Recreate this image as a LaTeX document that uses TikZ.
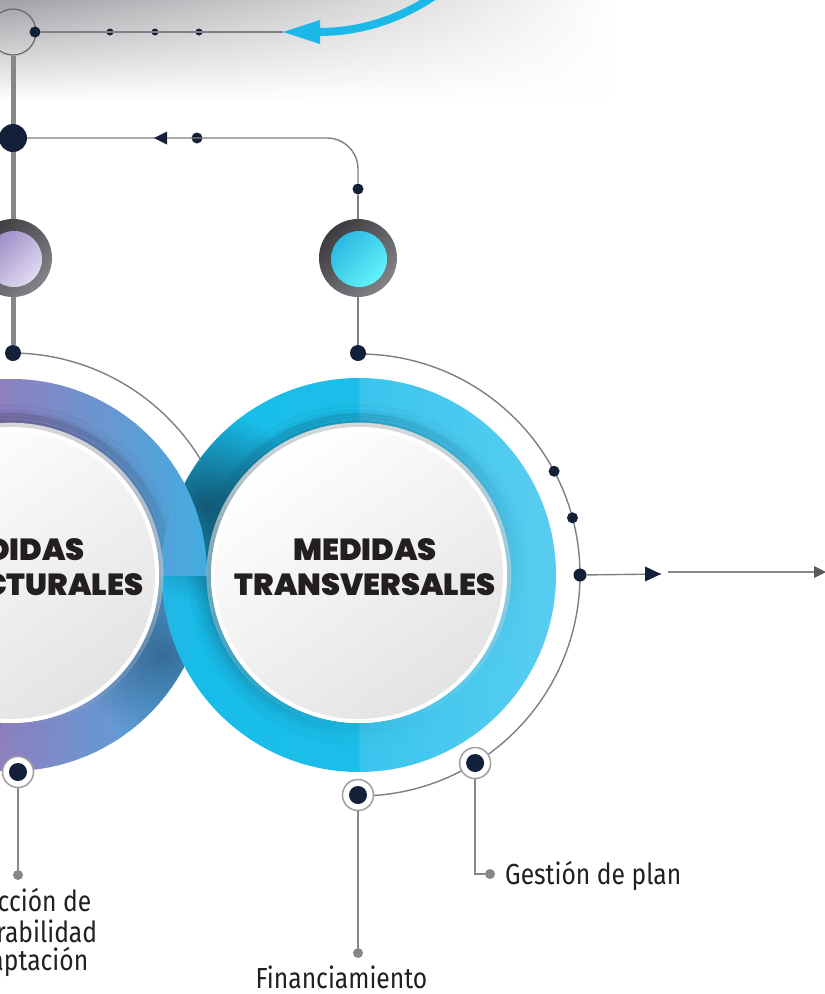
\documentclass[tikz,border=0pt]{standalone}
\usepackage{fontspec}
\usetikzlibrary{fadings}
\IfFontExistsTF{Poppins Black}{\newfontfamily\headfont{Poppins Black}}{%
  \IfFontExistsTF{Poppins ExtraBold}{\newfontfamily\headfont{Poppins ExtraBold}[FakeBold=1.5]}{%
    \newfontfamily\headfontraw{Lato}[BoldFeatures={FakeBold=10}]\newcommand\headfont{\headfontraw\bfseries}}}
\newfontfamily\lblfont{Fira Sans}[FakeStretch=0.85]
\definecolor{navy}{HTML}{13203A}
\definecolor{lgray}{HTML}{7D7F82}
\definecolor{tgray}{HTML}{858789}
\definecolor{cyanA}{HTML}{1BB8E8}
\definecolor{txt}{HTML}{231F20}
\definecolor{btnDark}{HTML}{3C3C40}
\definecolor{btnGray}{HTML}{828487}
\definecolor{arrowGray}{HTML}{58595B}
\definecolor{pB}{HTML}{8E80C0}
\definecolor{pC}{HTML}{6A96D0}
\definecolor{pD}{HTML}{42ACE1}
\definecolor{cA}{HTML}{3AAADC}
\definecolor{cB}{HTML}{17BDE9}
\definecolor{cC}{HTML}{1CBEE9}
\definecolor{cD}{HTML}{3AC5EE}
\definecolor{cE}{HTML}{66D0F2}
\definecolor{shadeR}{HTML}{124E6A}
\definecolor{shadeL}{HTML}{2F2845}
\definecolor{shadeL2}{HTML}{2E5F86}
\definecolor{purpleBtn}{HTML}{9A8EC6}
\definecolor{purpleBtnL}{HTML}{E2DAF2}
\definecolor{cyanBtn}{HTML}{2BB8E2}
\definecolor{cyanBtnL}{HTML}{62F4FA}
\definecolor{topshade}{HTML}{8A898F}
\pgfdeclarehorizontalshading{ringRshade}{100bp}{color(0bp)=(cA); color(15bp)=(cA); color(30bp)=(cB); color(49.8bp)=(cC); color(50.2bp)=(cD); color(85.5bp)=(cE); color(100bp)=(cE)}
\tikzfading[name=fadeR, left color=transparent!0, right color=transparent!100]
\tikzfading[name=fadeUL, top color=transparent!0, bottom color=transparent!100]
\tikzfading[name=softspot, inner color=transparent!0, outer color=transparent!100]
% vertical colour strips for the left ring (purple -> blue)
\newcommand\lrstrips{%
  \foreach \x in {-3,0,...,210}{%
    \ifdim\x pt<100pt
      \pgfmathsetmacro\pp{max(0,\x)}%
      \colorlet{stripc}{pC!\pp!pB}%
    \else
      \pgfmathsetmacro\pp{(\x-100)/107*100}%
      \colorlet{stripc}{pD!\pp!pC}%
    \fi
    \fill[stripc] (\x,370) rectangle (\x+4,780);
  }}
\tikzset{
  ndot/.style={circle, fill=navy, inner sep=0pt, minimum size=#1},
  ndot/.default=11,
  thinline/.style={lgray, line width=1.4},
  thickline/.style={tgray, line width=5},
  lblline/.style={tgray, line width=2.6},
  graydot/.style={circle, fill=tgray, inner sep=0pt, minimum size=10},
  bnode/.style={circle, draw=gray!75, line width=1.5, fill=white, inner sep=0pt, minimum size=31},
  lbl/.style={font=\lblfont\fontsize{29}{31}\selectfont, text=txt, inner sep=0pt},
  head/.style={font=\headfont\fontsize{30.5}{35}\selectfont, text=txt, inner sep=0pt},
  btnring/.style={circle, inner sep=0pt, minimum size=78, top color=btnDark, bottom color=btnGray, shading angle=45},
}
\begin{document}
\begin{tikzpicture}[x=1pt, y=-1pt]
\useasboundingbox (0,0) rectangle (825,994);
\clip (0,0) rectangle (825,994);
\fill[white] (0,0) rectangle (825,994);
% top shadow band
\shade[top color=topshade, bottom color=white, path fading=fadeR] (0,-25) rectangle (610,100);

\coordinate (LC) at (11,575);
\coordinate (RC) at (359,575);

% thin outer arcs
\draw[thinline] (LC) ++(0,-222) arc[start angle=-90, end angle=-10, radius=222];
\draw[thinline] (RC) ++(0,-221) arc[start angle=-90, end angle=90, radius=221];

% ---- left ring
\begin{scope}[even odd rule]
  \clip (LC) circle (196) (LC) circle (148);
  \lrstrips
  \foreach \r/\o in {149/.55,152/.45,155/.36,158/.28,161/.2,164/.14,167/.09,170/.05}
    \draw[shadeL, opacity=\o, line width=3.2, path fading=fadeUL, fading angle=20] (LC) circle (\r);
  \fill[shadeL2, opacity=.8, path fading=softspot] (162,655) circle (84);
\end{scope}

% ---- right ring
\shade[shading=ringRshade, even odd rule] (RC) circle (197) (RC) circle (148);
\begin{scope}[even odd rule]
  \clip (RC) circle (197) (RC) circle (148);
  \foreach \r/\o in {149/.6,152/.5,155/.4,158/.3,161/.22,164/.15,167/.1,170/.06}
    \draw[shadeR, opacity=\o, line width=3.2, path fading=fadeUL, fading angle=45] (RC) circle (\r);
  \fill[shadeR, opacity=.9, path fading=softspot] (205,505) circle (96);
\end{scope}

% left ring passing over the right ring at the upper crossing
\begin{scope}[even odd rule]
  \clip (LC) circle (196) (LC) circle (148);
  \clip (RC) circle (198);
  \clip (0,300) rectangle (300,575);
  \lrstrips
\end{scope}

% inner white discs
\foreach \c in {LC,RC}{
  \draw[gray!30, line width=5, path fading=fadeUL] (\c) circle (150);
  \shade[top color=white, bottom color=gray!22, shading angle=35] (\c) circle (147);
  \draw[white, line width=4] (\c) circle (146);
}

% headings
\node[head, anchor=base] (hL1) at (13,560) {MEDIDAS};
\node[head, anchor=base] (hL2) at (15,595) {ESTRUCTURALES};
\node[head, anchor=base] (hR1) at (365,560) {MEDIDAS};
\node[head, anchor=base] (hR2) at (365,595) {TRANSVERSALES};

% ---- top connectors
\node[circle, draw=gray!80!black, line width=1.2, inner sep=0pt, minimum size=46] (topc) at (13,32) {};
\node[ndot=11] (d0) at (35,32) {};
\node[ndot=7] (s1) at (110,32) {};
\node[ndot=7] (s2) at (155,32) {};
\node[ndot=7] (s3) at (199,32) {};
\coordinate (ctip) at (283,32);
\coordinate (ctail) at (318,32);
\coordinate (cstart) at (440,-8);
\draw[thinline] (d0) -- (ctip);
\draw[cyanA, line width=8] (cstart) .. controls (400,20) and (360,32) .. (ctail);
\fill[cyanA] (ctip) -- ++(37,-12) -- ++(0,24) -- cycle;

\node[ndot=28] (bigdot) at (13,138) {};
\node[ndot=11] (d1) at (197,138) {};
\node[ndot=11] (d2) at (358,189) {};
\coordinate (atip) at (154,138);
\draw[thinline, rounded corners=31] (d2.north) |- (bigdot.east);
\fill[navy] (atip) -- ++(13,-6.5) -- ++(0,13) -- cycle;

% buttons
\node[btnring] (btnL) at (13,258) {};
\node[circle, inner sep=0pt, minimum size=56, top color=purpleBtn, bottom color=purpleBtnL, shading angle=45] (btnLin) at (14,259) {};
\node[btnring] (btnR) at (358,258) {};
\node[circle, inner sep=0pt, minimum size=56, top color=cyanBtn, bottom color=cyanBtnL, shading angle=45] (btnRin) at (359,259) {};

\node[ndot=16] (dL) at (13,353) {};
\node[ndot=16] (dR) at (358,353) {};

\draw[thickline] (topc.south) -- (bigdot.north);
\draw[thickline] (bigdot.south) -- (btnL.north);
\draw[thickline] (btnL.south) -- (dL.north);
\draw[thinline] (d2.south) -- (btnR.north);
\draw[thinline] (btnR.south) -- (dR.north);

% ---- right side
\node[ndot=11] (a1) at ([shift={(-28:221)}]RC) {};
\node[ndot=11] (a2) at ([shift={(-15:221)}]RC) {};
\node[ndot=13] (a3) at ([shift={(0:221)}]RC) {};
\coordinate (rtip) at (661,574);
\draw[thinline] (a3) -- (rtip);
\fill[navy] (rtip) -- ++(-16,-7.5) -- ++(0,15) -- cycle;
\coordinate (g0) at (668,572);
\coordinate (g1) at (814,572);
\draw[tgray, line width=2.4] (g0) -- (g1);
\fill[arrowGray] (g1) ++(0,-6) -- ++(12,6) -- ++(-12,6) -- cycle;

% ---- bottom nodes
\node[bnode] (gest) at ([shift={(58.3:221)}]RC) {};
\node[ndot=18] (gestin) at (gest) {};
\node[bnode] (fin) at (358,795) {};
\node[ndot=18] (finin) at (fin) {};
\node[bnode] (lbot) at (18,772) {};
\node[ndot=18] (lbotin) at (lbot) {};

\node[graydot] (gdot) at (490,874) {};
\node[graydot] (fdot) at (358,953) {};
\node[graydot] (ldot) at (18,875) {};
\draw[lblline] (gest.south) |- (gdot.west);
\draw[lblline] (fin.south) -- (fdot.north);
\draw[lblline] (lbot.south) -- (ldot.north);

\node[lbl, anchor=base west] (tgest) at (505,884) {Gestión de plan};
\node[lbl, anchor=base] (tfin) at (341.5,988) {Financiamiento};
\node[lbl, anchor=base] (tl1) at (16,911) {Reducción de};
\node[lbl, anchor=base] (tl2) at (16,942) {vulnerabilidad};
\node[lbl, anchor=base] (tl3) at (16,970) {y adaptación};
\end{tikzpicture}
\end{document}
